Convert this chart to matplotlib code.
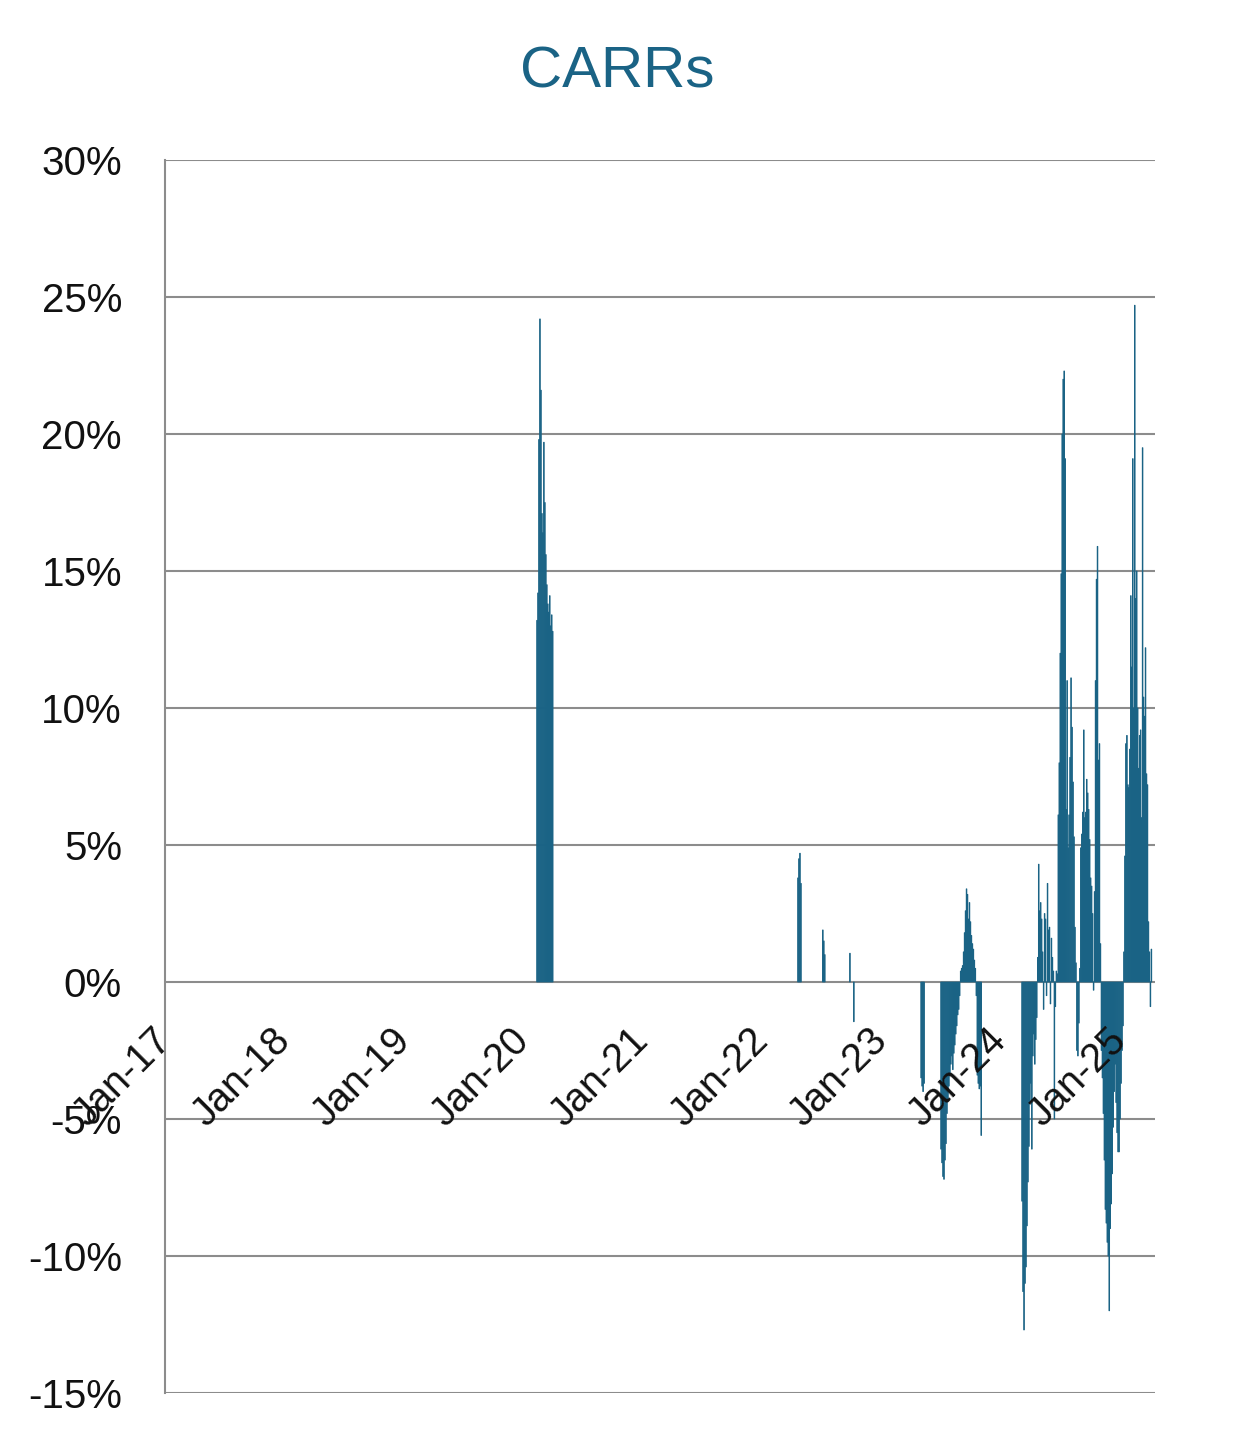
import matplotlib
matplotlib.use('Agg')
import matplotlib.pyplot as plt
import matplotlib.ticker as mticker
import matplotlib.transforms as mtransforms
import pandas as pd

plt.rcParams['font.family'] = ['Liberation Sans', 'DejaVu Sans']

# ---------------- data (percent) ----------------
title = 'CARRs'
step_days = 3  # spacing of consecutive observations in each block

covid_start = '2020-02-14'
covid_vals = [13.2, 14.2, 19.8, 24.2, 21.6, 17.1, 16.4, 19.7, 17.5, 15.6,
              14.5, 13.8, 13.5, 14.1, 13.0, 13.4, 12.8]

apr22_start = '2022-04-23'
apr22_vals = [3.8, 4.5, 4.7, 3.6]

jul22_start = '2022-07-08'
jul22_vals = [1.9, 1.5, 1.0]

autumn22_dates = ['2022-09-29', '2022-10-11']
autumn22_vals = [1.05, -1.45]

may23_start = '2023-05-05'
may23_vals = [-3.5, -3.8, -4.0, -3.7]

jul23_start = '2023-07-05'
jul23_vals = [-6.1, -6.6, -7.1, -7.2, -6.5, -5.9, -4.8, -4.3, -3.8, -3.4,
              -3.0, -2.7, -3.2, -2.6, -2.3, -1.9, -1.6, -1.2, -1.0, -0.5,
              0.4, 0.5, 0.6, 1.1, 1.8, 2.6, 3.4, 3.2, 2.3, 2.9,
              2.2, 1.7, 1.4, 1.2, 0.8, 0.5, -0.5, -3.4, -3.7, -3.9,
              -3.8, -5.6]

mar24_start = '2024-03-09'
mar24_vals = [-8.0, -11.3, -12.7, -11.0, -10.4, -8.9, -7.3, -6.0, -4.4, -3.7,
              -6.1, -2.7, -1.9, -3.0, -2.1, -1.3, 0.9, 4.3, 2.6, 2.9,
              2.3, 1.1, -1.0, 2.5, 2.3, -0.5, 3.6, 1.9, 2.0, -0.8,
              1.6, 0.9, 0.4, -5.0, -0.9, 0.4, 0.3, 6.1, 8.0, 12.0,
              14.9, 20.0, 22.0, 22.3, 19.1, 6.3, 11.0, 4.9, 6.1, 8.2,
              11.1, 9.3, 7.3, 5.3, 2.0, 0.7, -2.5, -2.7, -1.5, 0.5,
              4.9, 5.4, 6.2, 9.2, 6.0, 6.2, 7.4, 6.9, 6.3, 5.2,
              3.8, 3.5, 2.5, -0.3, 3.3, 11.0, 14.7, 15.9, 8.1, 8.7,
              1.4, -2.5, -3.5, -4.8, -6.5, -8.3, -8.8, -9.5, -10.0, -12.0,
              -9.0, -8.1, -7.0, -5.3, -4.0, -3.0, -4.4, -5.5, -6.2, -6.2,
              -5.0, -3.7, -2.5, -1.6, 1.1, 4.6, 8.7, 9.0, 7.2, 7.1,
              8.5, 14.1, 11.5, 19.1, 10.0, 24.7, 14.0, 15.0, 10.0, 7.8,
              9.0, 9.2, 6.0, 19.5, 10.4, 9.7, 12.2, 7.6, 7.2, 2.2,
              1.1, -0.9, 1.2]

x_start = '2017-01-01'
x_end = '2025-04-20'
tick_years = pd.date_range('2017-01-01', '2025-01-01', freq='YS')
tick_labels = [d.strftime('%b-%y') for d in tick_years]
y_ticks = [-15, -10, -5, 0, 5, 10, 15, 20, 25, 30]

# ---------------- assemble series ----------------
blocks = [(covid_start, covid_vals), (apr22_start, apr22_vals),
          (jul22_start, jul22_vals), (may23_start, may23_vals),
          (jul23_start, jul23_vals), (mar24_start, mar24_vals)]
dates = []
vals = []
for start, v in blocks:
    dates.extend(pd.date_range(start, periods=len(v), freq=f'{step_days}D'))
    vals.extend(v)
dates.extend(pd.to_datetime(autumn22_dates))
vals.extend(autumn22_vals)
series = pd.Series(vals, index=pd.DatetimeIndex(dates)).sort_index()

# ---------------- plot ----------------
bar_color = '#1a6385'
grid_color = '#8c8c8c'

fig = plt.figure(figsize=(12.34, 14.40), dpi=100)
ax = fig.add_axes([165/1234, 1 - 1393/1440, (1155-165)/1234, (1393-160)/1440])

bars = ax.bar(series.index, series.values, width=2.2, color=bar_color,
              edgecolor=bar_color, linewidth=0.55, zorder=2)
for b in bars:
    b.set_snap(False)

ax.set_xlim(pd.Timestamp(x_start), pd.Timestamp(x_end))
ax.set_ylim(-15, 30)
ax.set_yticks(y_ticks)
ax.yaxis.set_major_formatter(mticker.FuncFormatter(lambda v, p: f'{int(round(v))}%'))
ax.grid(axis='y', color=grid_color, linewidth=1.5)
ax.set_axisbelow(True)

for s in ['top', 'right']:
    ax.spines[s].set_visible(False)
ax.spines['left'].set_color(grid_color)
ax.spines['left'].set_linewidth(1.5)
ax.spines['bottom'].set_position(('data', 0))
ax.spines['bottom'].set_visible(False)

ax.tick_params(axis='y', length=0, pad=31, labelsize=29, labelcolor='#111111')
ax.set_xticks(tick_years)
ax.set_xticklabels(tick_labels)
ax.tick_params(axis='x', length=0, pad=28, labelsize=28.5, labelcolor='#111111')
shift = mtransforms.ScaledTranslation(-13/100, 0, fig.dpi_scale_trans)
for lbl in ax.get_xticklabels():
    lbl.set_rotation(45)
    lbl.set_ha('right')
    lbl.set_va('top')
    lbl.set_rotation_mode('anchor')
    lbl.set_transform(lbl.get_transform() + shift)
ax.xaxis.set_zorder(3)

fig.text(0.5, 1 - 72/1440, title, ha='center', va='center', fontsize=42, color=bar_color)

fig.savefig('out.png', dpi=100)
